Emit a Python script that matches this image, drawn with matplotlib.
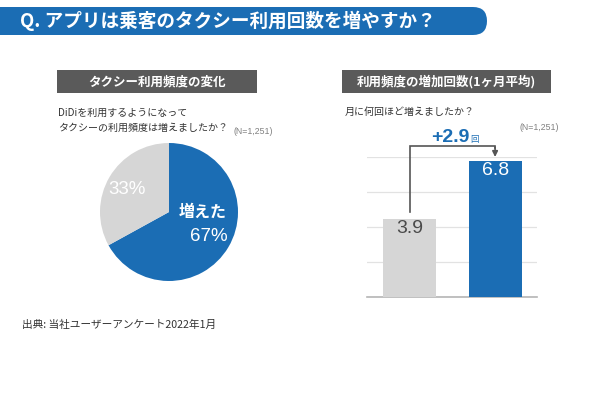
import numpy as np
import matplotlib.pyplot as plt
from matplotlib.patches import FancyBboxPatch, Rectangle

plt.rcParams['font.family'] = ['Noto Sans CJK JP', 'DejaVu Sans']

# data
title = 'Q. アプリは乗客のタクシー利用回数を増やすか？'
left_header = 'タクシー利用頻度の変化'
right_header = '利用頻度の増加回数(1ヶ月平均)'
left_question = ['DiDiを利用するようになって', 'タクシーの利用頻度は増えましたか？']
right_question = '月に何回ほど増えましたか？'
n_label = '(N=1,251)'
source = '出典: 当社ユーザーアンケート2022年1月'

pie_values = [67, 33]
pie_names = ['増えた', '']
bar_values = [3.9, 6.8]

blue = '#1b6db4'
light = '#d6d6d6'
dark_head = '#5a5a5a'
text_col = '#333333'
note_col = '#808080'
num_font = ['Liberation Sans', 'DejaVu Sans']

fig = plt.figure(figsize=(6, 4), dpi=100)

# overlay axes in pixel units for banner, headers and notes
bg = fig.add_axes([0, 0, 1, 1])
bg.set_xlim(0, 600)
bg.set_ylim(400, 0)
bg.axis('off')

bg.add_patch(FancyBboxPatch((-40, 7), 527, 28, boxstyle='round,pad=0,rounding_size=14',
                            fc=blue, ec='none'))
bg.text(20, 21, title, color='white', fontsize=13.4, fontweight='bold', va='center', ha='left')

bg.add_patch(Rectangle((57, 70), 200, 23, fc=dark_head, ec='none'))
bg.text(157, 81.5, left_header, color='white', fontsize=9, fontweight='bold', ha='center', va='center')
bg.add_patch(Rectangle((342, 70), 209, 23, fc=dark_head, ec='none'))
bg.text(446.5, 81.5, right_header, color='white', fontsize=9, fontweight='bold', ha='center', va='center')

bg.text(58, 113, left_question[0], color=text_col, fontsize=7.2, va='center')
bg.text(58, 128, left_question[1], color=text_col, fontsize=7.2, va='center')
bg.text(233, 132, n_label, color=note_col, fontsize=6.3, family=num_font, va='center')

bg.text(345, 112, right_question, color=text_col, fontsize=7.2, va='center')
bg.text(520, 127, n_label, color=note_col, fontsize=6.3, family=num_font, va='center')

bg.text(22, 325, source, color=text_col, fontsize=7.7, va='center')

# pie
pax = fig.add_axes([100 / 600, (400 - 281) / 400, 138 / 600, 138 / 400])
pax.pie(pie_values, colors=[blue, light], startangle=90, counterclock=False,
        wedgeprops=dict(linewidth=0))
pax.set_xlim(-1, 1)
pax.set_ylim(-1, 1)
pax.text(-0.61, 0.32, f'{pie_values[1]}%', color='white', fontsize=13.5,
         family=num_font, ha='center', va='center')
pax.text(0.49, 0.0, pie_names[0], color='white', fontsize=11.5, fontweight='bold',
         ha='center', va='center')
pax.text(0.57, -0.35, f'{pie_values[0]}%', color='white', fontsize=13.5,
         family=num_font, ha='center', va='center')

# bars
bax = fig.add_axes([367 / 600, 103 / 400, 170 / 600, 140 / 400])
x = np.arange(len(bar_values))
bax.bar(x, bar_values, width=0.62, color=[light, blue], zorder=3)
bax.set_xlim(-0.497, 1.49)
bax.set_ylim(0, 7)
bax.set_yticks(np.arange(0, 7.01, 1.75))
bax.set_xticks([])
bax.tick_params(left=False, labelleft=False)
bax.grid(axis='y', color='#e2e2e2', linewidth=0.9, zorder=0)
for s in ['top', 'right', 'left']:
    bax.spines[s].set_visible(False)
bax.spines['bottom'].set_color('#b5b5b5')
bax.spines['bottom'].set_linewidth(1.2)

bax.text(x[0], bar_values[0] - 0.48, f'{bar_values[0]}', color='#4a4a4a', fontsize=14,
         family=num_font, ha='center', va='center', zorder=4)
bax.text(x[1], bar_values[1] - 0.45, f'{bar_values[1]}', color='white', fontsize=14,
         family=num_font, ha='center', va='center', zorder=4)

# bracket arrow showing the increase
top = max(bar_values) + 0.75
bax.plot([x[0], x[0], x[1], x[1]], [bar_values[0] + 0.35, top, top, top - 0.1],
         color='#555555', lw=1.2, clip_on=False, zorder=5, solid_joinstyle='miter')
bax.annotate('', xy=(x[1], bar_values[1] + 0.2), xytext=(x[1], top - 0.05),
             arrowprops=dict(arrowstyle='-|>', color='#555555', lw=1.2,
                             mutation_scale=8, shrinkA=0, shrinkB=0),
             annotation_clip=False)
diff = bar_values[1] - bar_values[0]
bax.text(0.70, top + 0.4, f'+{diff:.1f}', color=blue, fontsize=14, fontweight='bold',
         family=num_font, ha='right', va='center')
bax.text(0.71, top + 0.32, '回', color=blue, fontsize=6, ha='left', va='center')

fig.savefig('out.png', dpi=100)
